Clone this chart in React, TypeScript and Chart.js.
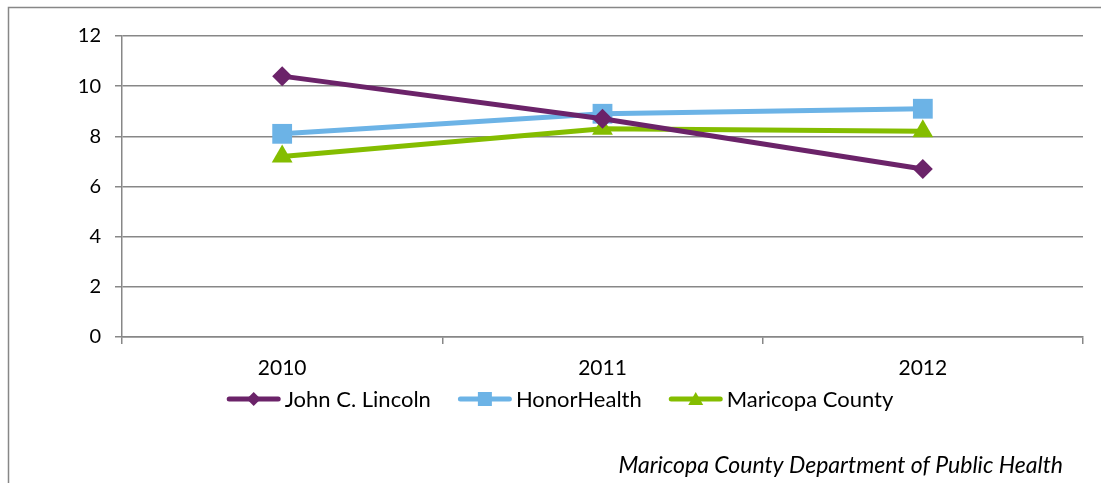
import React, { useEffect, useRef } from "react";
import { Chart, registerables } from "chart.js";

Chart.register(...registerables);

const categories = ["2010", "2011", "2012"];
const johnCLincoln = [10.4, 8.7, 6.7];
const honorHealth = [8.1, 8.9, 9.1];
const maricopaCounty = [7.2, 8.3, 8.2];
const yTickValues = [0, 2, 4, 6, 8, 10, 12];
const seriesNames = ["John C. Lincoln", "HonorHealth", "Maricopa County"];
const sourceNote = "Maricopa County Department of Public Health";

const PURPLE = "#6B2369";
const BLUE = "#6CB3E6";
const GREEN = "#84BD00";
const GRID = "#878787";
const FONT = "Lato, 'Noto Sans', sans-serif";

type Shape = "diamond" | "square" | "triangle";
const shapes: Shape[] = ["diamond", "square", "triangle"];

function drawLegendIcon(ctx: CanvasRenderingContext2D, x: number, y: number, color: string, shape: Shape) {
  // x = left of the 54px icon, y = vertical centre
  ctx.save();
  ctx.strokeStyle = color;
  ctx.lineWidth = 5;
  ctx.lineCap = "round";
  ctx.beginPath();
  ctx.moveTo(x + 2.5, y);
  ctx.lineTo(x + 51.5, y);
  ctx.stroke();
  ctx.fillStyle = color;
  ctx.beginPath();
  const cx = x + 27;
  if (shape === "diamond") {
    ctx.moveTo(cx, y - 7);
    ctx.lineTo(cx + 7, y);
    ctx.lineTo(cx, y + 7);
    ctx.lineTo(cx - 7, y);
  } else if (shape === "square") {
    ctx.rect(cx - 7, y - 7, 14, 14);
  } else {
    ctx.moveTo(cx, y - 7);
    ctx.lineTo(cx + 7.5, y + 6);
    ctx.lineTo(cx - 7.5, y + 6);
  }
  ctx.closePath();
  ctx.fill();
  ctx.restore();
}

const overlayPlugin = {
  id: "frameLegendNote",
  afterDraw(chart: any) {
    const ctx = chart.ctx as CanvasRenderingContext2D;
    ctx.save();
    // outer frame (left and top edges visible)
    ctx.strokeStyle = GRID;
    ctx.lineWidth = 1.5;
    ctx.beginPath();
    ctx.moveTo(8.5, 483);
    ctx.lineTo(8.5, 7.5);
    ctx.lineTo(1101, 7.5);
    ctx.stroke();

    // legend
    const colors = chart.data.datasets.map((d: any) => d.borderColor);
    const labels = chart.data.datasets.map((d: any) => d.label);
    ctx.font = `22px ${FONT}`;
    const iconW = 54;
    const iconGap = 4;
    const itemGap = 27;
    const widths = labels.map((t: string) => ctx.measureText(t).width);
    const total =
      widths.reduce((a: number, b: number) => a + b, 0) +
      labels.length * (iconW + iconGap) +
      (labels.length - 1) * itemGap;
    let x = 560 - total / 2;
    const ly = 399;
    ctx.fillStyle = "#000";
    ctx.textAlign = "left";
    ctx.textBaseline = "middle";
    labels.forEach((t: string, i: number) => {
      drawLegendIcon(ctx, x, ly, colors[i], shapes[i]);
      x += iconW + iconGap;
      ctx.fillStyle = "#000";
      ctx.fillText(t, x, ly + 1);
      x += widths[i] + itemGap;
    });

    // source note
    ctx.font = `italic 23px ${FONT}`;
    ctx.textAlign = "right";
    ctx.textBaseline = "middle";
    ctx.fillText(sourceNote, 1063, 466);
    ctx.restore();
  },
};

export default function App() {
  const ref = useRef<HTMLCanvasElement | null>(null);

  useEffect(() => {
    document.body.style.margin = "0";
    document.body.style.overflow = "hidden";
    const canvas = ref.current!;
    const chart = new Chart(canvas, {
      type: "line",
      data: {
        labels: categories,
        datasets: [
          {
            label: seriesNames[0],
            data: johnCLincoln,
            borderColor: PURPLE,
            backgroundColor: PURPLE,
            borderWidth: 5,
            pointStyle: "rectRot",
            pointRadius: 10,
            pointBorderWidth: 0,
            pointBackgroundColor: PURPLE,
          },
          {
            label: seriesNames[1],
            data: honorHealth,
            borderColor: BLUE,
            backgroundColor: BLUE,
            borderWidth: 5,
            pointStyle: "rect",
            pointRadius: 14,
            pointBorderWidth: 0,
            pointBackgroundColor: BLUE,
          },
          {
            label: seriesNames[2],
            data: maricopaCounty,
            borderColor: GREEN,
            backgroundColor: GREEN,
            borderWidth: 5,
            pointStyle: "triangle",
            pointRadius: 12,
            pointBorderWidth: 0,
            pointBackgroundColor: GREEN,
          },
        ],
      },
      options: {
        animation: false,
        responsive: false,
        devicePixelRatio: 1,
        layout: { padding: { left: 37, right: 18, top: 36, bottom: 96 } },
        scales: {
          x: {
            offset: true,
            grid: {
              display: true,
              drawOnChartArea: false,
              drawTicks: true,
              tickLength: 7,
              color: GRID,
              lineWidth: 1.5,
              offset: true,
            },
            border: { color: GRID, width: 1.5 },
            ticks: { color: "#000", font: { family: FONT, size: 21 }, padding: 12, maxRotation: 0 },
            afterFit: (s: any) => {
              s.height = 50;
            },
          },
          y: {
            min: 0,
            max: 12,
            afterBuildTicks: (s: any) => {
              s.ticks = yTickValues.map((v) => ({ value: v }));
            },
            grid: { color: GRID, lineWidth: 1.5, tickLength: 7, drawTicks: true },
            border: { color: GRID, width: 1.5 },
            ticks: { color: "#000", font: { family: FONT, size: 20 }, padding: 14 },
            afterFit: (s: any) => {
              s.width = 85;
            },
          },
        },
        plugins: {
          tooltip: { enabled: false },
          legend: { display: false },
        },
      },
      plugins: [overlayPlugin],
    } as any);
    return () => chart.destroy();
  }, []);

  return (
    <div style={{ width: 1101, height: 483, background: "#fff" }}>
      <canvas ref={ref} width={1101} height={483} style={{ display: "block" }} />
    </div>
  );
}
